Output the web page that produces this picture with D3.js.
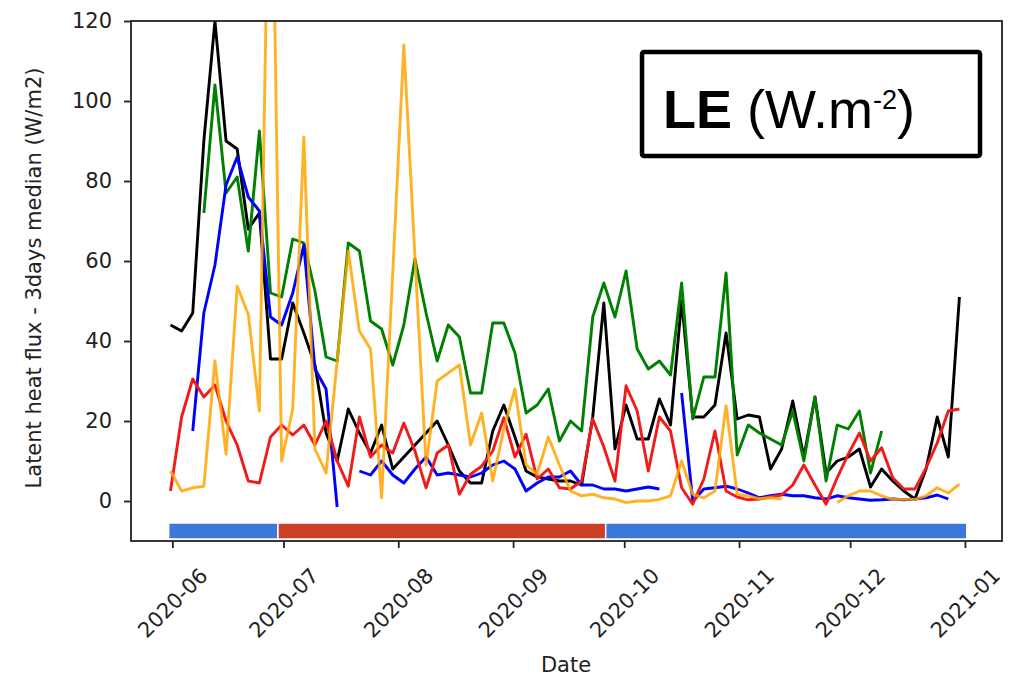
<!DOCTYPE html>
<html>
<head>
<meta charset="utf-8">
<script src="https://cdn.jsdelivr.net/npm/d3@7"></script>
<style>
  body { margin: 0; background: #fff; }
  svg { display: block; }
</style>
</head>
<body>
<div id="chart"></div>
<script>
// 3-day medians, one value every 3 days (null = no data)
const dates = ["2020-05-31","2020-06-03","2020-06-06","2020-06-09","2020-06-12","2020-06-15","2020-06-18","2020-06-21","2020-06-24","2020-06-27",
  "2020-06-30","2020-07-03","2020-07-06","2020-07-09","2020-07-12","2020-07-15","2020-07-18","2020-07-21","2020-07-24","2020-07-27",
  "2020-07-30","2020-08-02","2020-08-05","2020-08-08","2020-08-11","2020-08-14","2020-08-17","2020-08-20","2020-08-23","2020-08-26",
  "2020-08-29","2020-09-01","2020-09-04","2020-09-07","2020-09-10","2020-09-13","2020-09-16","2020-09-19","2020-09-22","2020-09-25",
  "2020-09-28","2020-10-01","2020-10-04","2020-10-07","2020-10-10","2020-10-13","2020-10-16","2020-10-19","2020-10-22","2020-10-25",
  "2020-10-28","2020-10-31","2020-11-03","2020-11-06","2020-11-09","2020-11-12","2020-11-15","2020-11-18","2020-11-21","2020-11-24",
  "2020-11-27","2020-11-30","2020-12-03","2020-12-06","2020-12-09","2020-12-12","2020-12-15","2020-12-18","2020-12-21","2020-12-24",
  "2020-12-27","2020-12-30"];

const blackVals = [44, 42.5, 47, 90, 120, 90, 88, 68, 72, 35.5,
  35.5, 49.5, 42, 34, 17, 10, 23, 17, 12, 19,
  8, 11, 14, 17, 20, 14, 7.5, 4.5, 4.5, 17.5,
  24, 16, 7.5, 6, 5.5, 5, 5, 4, 21, 49.5,
  13, 24, 15.5, 15.5, 25.5, 19, 50, 21, 21, 24,
  42, 20.5, 21.5, 21, 8, 13, 25, 11, 26, 7,
  10, 11, 13, 3.5, 8, 5, 2.5, 0.5, 8, 21,
  11, 51];

const greenVals = [null, null, null, 72, 104, 77, 81, 62.5, 92.5, 52,
  51, 65.5, 64.5, 52.5, 36, 35, 64.5, 62.5, 45, 43,
  34, 44, 60.5, 47, 35, 44, 41, 27, 27, 44.5,
  44.5, 37, 22, 24, 28, 15, 20, 17.5, 46, 54.5,
  46, 57.5, 38, 33, 35, 31.5, 54.5, 20.5, 31, 31,
  57, 11.5, 19, 17, 15.5, 14, 22.5, 10, 26, 5,
  19, 18, 22.5, 7, 17.5, null, null, null, null, null,
  null, null];

const blueVals = [null, null, 17.5, 47, 59, 79, 86, 76, 72.5, 46,
  44, 52, 64, 33, 28, -1.5, null, 7.5, 6.5, 10,
  6.5, 4.5, 8, 11, 6.5, 7, 6.5, 6, 7, 9,
  10, 8, 2.5, 4.5, 6, 6, 7.5, 4, 4, 3,
  3, 2.5, 3, 3.5, 3, null, 27, 0, 3, 3.3,
  3.7, 3, 2, 0.8, 1.3, 1.7, 1.3, 1.3, 0.8, 0.5,
  1.3, 0.8, 0.5, 0.2, 0.3, 0.5, 0.3, 0.5, 0.8, 1.5,
  0.5, null];

const redVals = [2.5, 21, 30.5, 26, 29, 20, 14, 5, 4.5, 16,
  19, 16.5, 19, 14, 20, 10, 3.7, 21, 11, 14,
  12, 19.5, 12.5, 3.3, 12, 14, 1.7, 6.7, 8.7, 12.5,
  20.8, 11, 16.7, 5.5, 8, 3.3, 3, 5, 20.5, 13.5,
  5, 28.8, 22.5, 7.5, 21, 17.5, 3.3, -0.8, 5.5, 17.5,
  2.5, 1, 0.3, 0.5, 1, 1.5, 4, 9, 4, -0.8,
  5.8, 11.7, 17, 10, 13.3, 5.8, 3, 3, 8.3, 14.5,
  22.5, 23];

const orangeVals = [7.5, 2.5, 3.3, 3.7, 35, 11.7, 53.7, 46.7, 22.5, 190,
  10, 23, 91, 13, 7, 35, 62.5, 42.5, 38, 0.8,
  57, 114, 61, 9, 30, 32, 34, 14, 22, 5,
  18, 28, 9, 6.7, 16, 9, 2.5, 1.3, 1.7, 0.8,
  0.5, -0.4, 0, 0, 0.4, 1.3, 10, 1.7, 0.8, 2.5,
  23.8, 1.7, 1.3, 0.6, 0.8, 0.5, null, null, null, null,
  -0.4, 1.3, 2.5, 2.5, 1.3, 0.4, 0.4, 0.4, 1.3, 3.3,
  2, 4.2];

const seriesNames = ["black", "green", "blue", "red", "orange"];
const seriesColors = ["#000000", "#008000", "#0000ff", "#f01c1c", "#ffa500"];
const seriesValues = [blackVals, greenVals, blueVals, redVals, orangeVals];

// season bars along the bottom
const periodStarts = ["2020-05-31T00:00Z", "2020-06-29T12:00Z", "2020-09-26T00:00Z"];
const periodEnds = ["2020-06-29T12:00Z", "2020-09-26T00:00Z", "2021-01-01T12:00Z"];
const periodColors = ["#3c78d8", "#cc4125", "#3c78d8"];

const yTicks = [0, 20, 40, 60, 80, 100, 120];
const xTicks = ["2020-06-01","2020-07-01","2020-08-01","2020-09-01","2020-10-01","2020-11-01","2020-12-01","2021-01-01"];

const W = 1009, H = 677;
const margin = {left: 131, top: 21, right: 7, bottom: 136};
const iw = W - margin.left - margin.right;
const ih = H - margin.top - margin.bottom;

const parse = d3.utcParse("%Y-%m-%d");
// medians are centred on the middle of the day
const xDates = dates.map(d => d3.utcHour.offset(parse(d), 12));

const x = d3.scaleUtc()
  .domain([new Date(Date.UTC(2020, 4, 20, 20)), new Date(Date.UTC(2021, 0, 11))])
  .range([0, iw]);
const y = d3.scaleLinear().domain([-10, 120]).range([ih, 0]);

const svg = d3.select("#chart").append("svg")
  .attr("width", W).attr("height", H);

svg.append("defs").append("clipPath").attr("id", "clip")
  .append("rect").attr("width", iw).attr("height", ih);

const g = svg.append("g").attr("transform", `translate(${margin.left},${margin.top})`);

// season bars
g.append("g").selectAll("rect")
  .data(periodStarts.map((s, i) => ({s: d3.isoParse(s), e: d3.isoParse(periodEnds[i]), c: periodColors[i]})))
  .join("rect")
  .attr("x", d => x(d.s))
  .attr("width", d => x(d.e) - x(d.s))
  .attr("y", y(-5.5))
  .attr("height", y(-9.5) - y(-5.5))
  .attr("fill", d => d.c)
  .attr("stroke", "#fff")
  .attr("stroke-width", 1.5);

// lines
const line = d3.line()
  .defined(d => d.v !== null)
  .x(d => x(d.t))
  .y(d => y(d.v));

const lines = g.append("g").attr("clip-path", "url(#clip)");
seriesValues.forEach((vals, i) => {
  const data = vals.map((v, j) => ({t: xDates[j], v: v}));
  lines.append("path")
    .datum(data)
    .attr("class", "series " + seriesNames[i])
    .attr("fill", "none")
    .attr("stroke", seriesColors[i])
    .attr("stroke-opacity", seriesNames[i] == "orange" ? 0.85 : 1)
    .attr("stroke-width", 2.9)
    .attr("stroke-linejoin", "round")
    .attr("d", line);
});

// axes
const axisFont = "DejaVu Sans, sans-serif";

const yAxis = g.append("g")
  .call(d3.axisLeft(y).tickValues(yTicks).tickSize(7).tickPadding(12));
const xAxis = g.append("g")
  .attr("transform", `translate(0,${ih})`)
  .call(d3.axisBottom(x).tickValues(xTicks.map(parse)).tickSize(7).tickFormat(d3.utcFormat("%Y-%m")));

[yAxis, xAxis].forEach(a => {
  a.select(".domain").remove();
  a.selectAll(".tick line").attr("stroke", "#222").attr("stroke-width", 1.8);
  a.selectAll(".tick text")
    .attr("fill", "#222")
    .style("font-family", axisFont)
    .style("font-size", "21px");
});

xAxis.selectAll(".tick text")
  .attr("y", 0)
  .attr("dy", 0)
  .attr("text-anchor", "middle")
  .attr("dominant-baseline", "central")
  .attr("transform", "translate(0,62) rotate(-45)");

// frame
g.append("rect")
  .attr("width", iw).attr("height", ih)
  .attr("fill", "none")
  .attr("stroke", "#222")
  .attr("stroke-width", 1.8);

// axis titles
svg.append("text")
  .attr("transform", `translate(41,${margin.top + 257}) rotate(-90)`)
  .attr("text-anchor", "middle")
  .attr("fill", "#222")
  .style("font-family", axisFont)
  .style("font-size", "21px")
  .text("Latent heat flux - 3days median (W/m2)");

svg.append("text")
  .attr("x", 566).attr("y", 672)
  .attr("text-anchor", "middle")
  .attr("fill", "#222")
  .style("font-family", axisFont)
  .style("font-size", "21px")
  .text("Date");

// variable box
const box = svg.append("g");
box.append("rect")
  .attr("x", 642).attr("y", 52)
  .attr("width", 338).attr("height", 104)
  .attr("rx", 2)
  .attr("fill", "#fff")
  .attr("stroke", "#000")
  .attr("stroke-width", 4.5);

const label = box.append("text")
  .attr("x", 663).attr("y", 128)
  .attr("fill", "#000")
  .style("font-family", "Liberation Sans, Arial, sans-serif")
  .style("font-size", "54px");
label.append("tspan").attr("font-weight", "bold").text("LE");
label.append("tspan").text(" (W.m");
label.append("tspan").attr("dy", -19).style("font-size", "27px").text("-2");
label.append("tspan").attr("dy", 19).text(")");
</script>
</body>
</html>
